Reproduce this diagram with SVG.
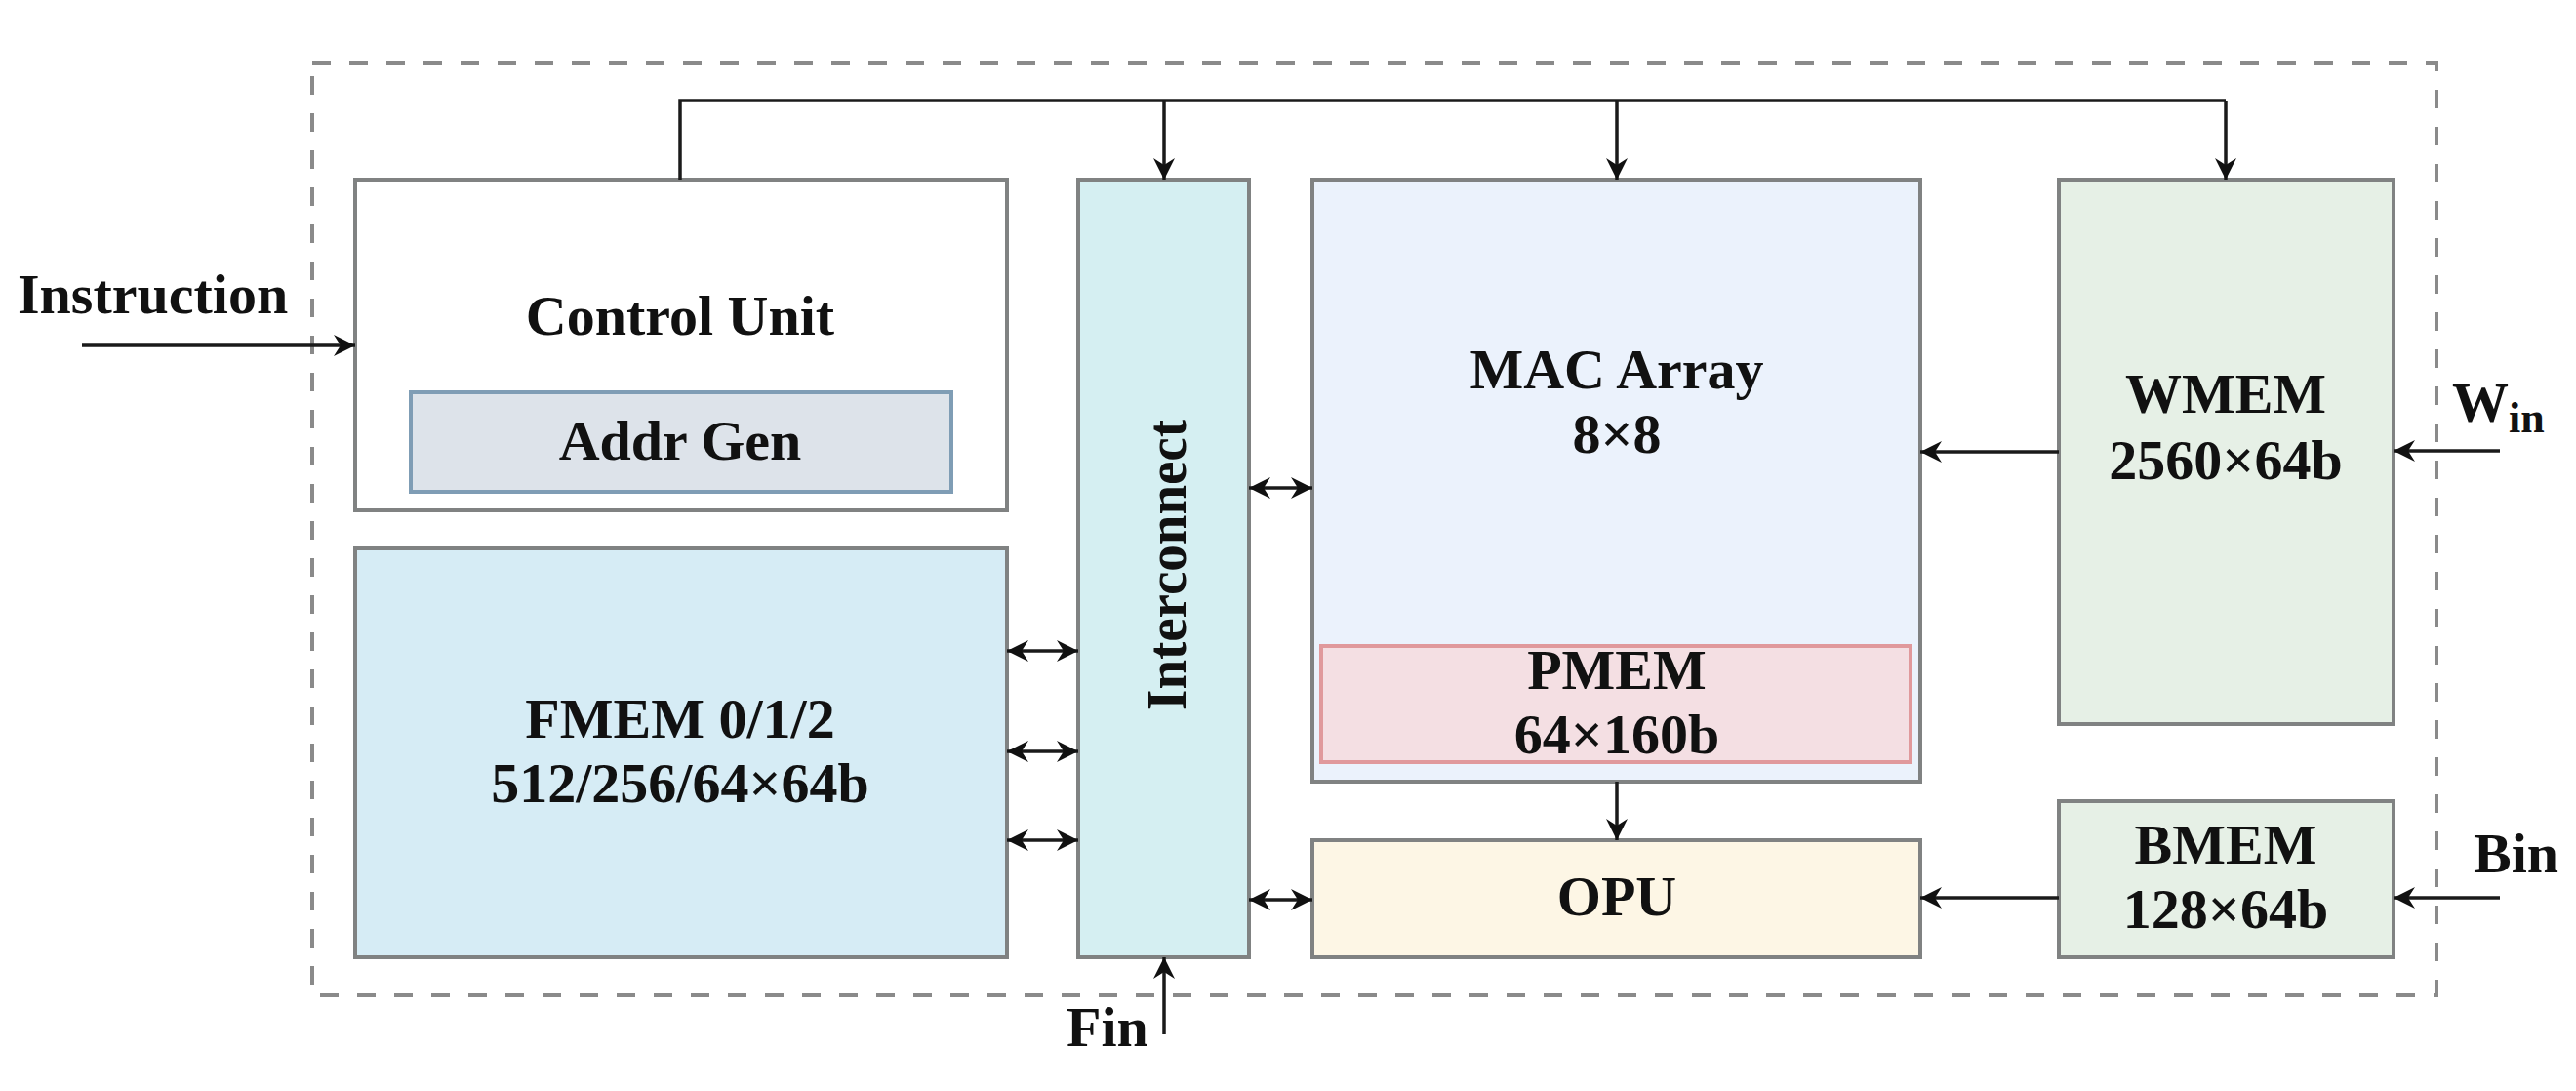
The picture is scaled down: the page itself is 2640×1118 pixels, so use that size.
<svg xmlns="http://www.w3.org/2000/svg" width="2640" height="1118" viewBox="0 0 2640 1118">
<style>
  text { font-family: "Liberation Serif", "Times New Roman", serif; font-weight: bold; font-size: 58px; fill: #111; }
  .c { text-anchor: middle; }
  .box { stroke: #808282; stroke-width: 4; }
  .wire { stroke: #1a1a1a; stroke-width: 3.5; fill: none; }
</style>
<defs>
  <marker id="ah" markerUnits="userSpaceOnUse" markerWidth="24" markerHeight="24" refX="22" refY="11" orient="auto-start-reverse" viewBox="0 0 24 24">
    <path d="M0,0 L22,11 L0,22 L7,11 Z" fill="#111"/>
  </marker>
</defs>
<rect id="boundary" x="320" y="65" width="2177" height="955" fill="none" stroke="#8a8a8a" stroke-width="4" stroke-dasharray="19 19"/>
<g id="control-unit">
  <rect class="box" x="364" y="184" width="668" height="339" fill="#ffffff"/>
  <text class="c" x="697" y="343">Control Unit</text>
</g>
<g id="addr-gen">
  <rect x="421" y="402" width="554" height="102" fill="#dde3ea" stroke="#7f9db5" stroke-width="4"/>
  <text class="c" x="697" y="471">Addr Gen</text>
</g>
<g id="fmem">
  <rect class="box" x="364" y="562" width="668" height="419" fill="#d6ecf5"/>
  <text class="c" x="697" y="756">FMEM 0/1/2</text>
  <text class="c" x="697" y="822">512/256/64×64b</text>
</g>
<g id="interconnect">
  <rect class="box" x="1105" y="184" width="175" height="797" fill="#d5eff2"/>
  <text class="c" transform="translate(1215,579) rotate(-90)" x="0" y="0" font-size="62" textLength="298" lengthAdjust="spacingAndGlyphs">Interconnect</text>
</g>
<g id="mac-array">
  <rect class="box" x="1345" y="184" width="623" height="617" fill="#ebf2fc"/>
  <text class="c" x="1657" y="398">MAC Array</text>
  <text class="c" x="1657" y="464">8×8</text>
</g>
<g id="pmem">
  <rect x="1354" y="662" width="604" height="119" fill="#f4dfe3" stroke="#e0999c" stroke-width="4"/>
  <text class="c" x="1657" y="706">PMEM</text>
  <text class="c" x="1657" y="772">64×160b</text>
</g>
<g id="opu">
  <rect class="box" x="1345" y="861" width="623" height="120" fill="#fdf6e5"/>
  <text class="c" x="1657" y="938">OPU</text>
</g>
<g id="wmem">
  <rect class="box" x="2110" y="184" width="343" height="558" fill="#e6f0e6"/>
  <text class="c" x="2281" y="423">WMEM</text>
  <text class="c" x="2281" y="491">2560×64b</text>
</g>
<g id="bmem">
  <rect class="box" x="2110" y="821" width="343" height="160" fill="#e6f0e6"/>
  <text class="c" x="2281" y="885">BMEM</text>
  <text class="c" x="2281" y="951">128×64b</text>
</g>
<g id="labels">
  <text x="18" y="321" font-size="59">Instruction</text>
  <text x="2513" y="432">W<tspan font-size="44" dy="11">in</tspan></text>
  <text x="2535" y="894" font-size="52">Bin</text>
  <text x="1093" y="1072" font-size="50">Fin</text>
</g>
<g id="connectors">
  <path class="wire" d="M697,184 V103 H2281" stroke-width="4"/>
  <path class="wire" d="M1193,103 V184" marker-end="url(#ah)"/>
  <path class="wire" d="M1657,103 V184" marker-end="url(#ah)"/>
  <path class="wire" d="M2281,103 V184" marker-end="url(#ah)"/>
  <path class="wire" d="M84,354 H364" stroke-width="4" marker-end="url(#ah)"/>
  <path class="wire" d="M2110,463 H1968" stroke-width="4" marker-end="url(#ah)"/>
  <path class="wire" d="M2562,462 H2453" stroke-width="4" marker-end="url(#ah)"/>
  <path class="wire" d="M2110,920 H1968" stroke-width="4" marker-end="url(#ah)"/>
  <path class="wire" d="M2562,920 H2453" stroke-width="4" marker-end="url(#ah)"/>
  <path class="wire" d="M1657,801 V861" marker-end="url(#ah)"/>
  <path class="wire" d="M1193,1060 V981" marker-end="url(#ah)"/>
  <path class="wire" d="M1032,667 H1105" marker-start="url(#ah)" marker-end="url(#ah)"/>
  <path class="wire" d="M1032,770 H1105" marker-start="url(#ah)" marker-end="url(#ah)"/>
  <path class="wire" d="M1032,861 H1105" marker-start="url(#ah)" marker-end="url(#ah)"/>
  <path class="wire" d="M1280,500 H1345" marker-start="url(#ah)" marker-end="url(#ah)"/>
  <path class="wire" d="M1280,922 H1345" marker-start="url(#ah)" marker-end="url(#ah)"/>
</g>
</svg>
